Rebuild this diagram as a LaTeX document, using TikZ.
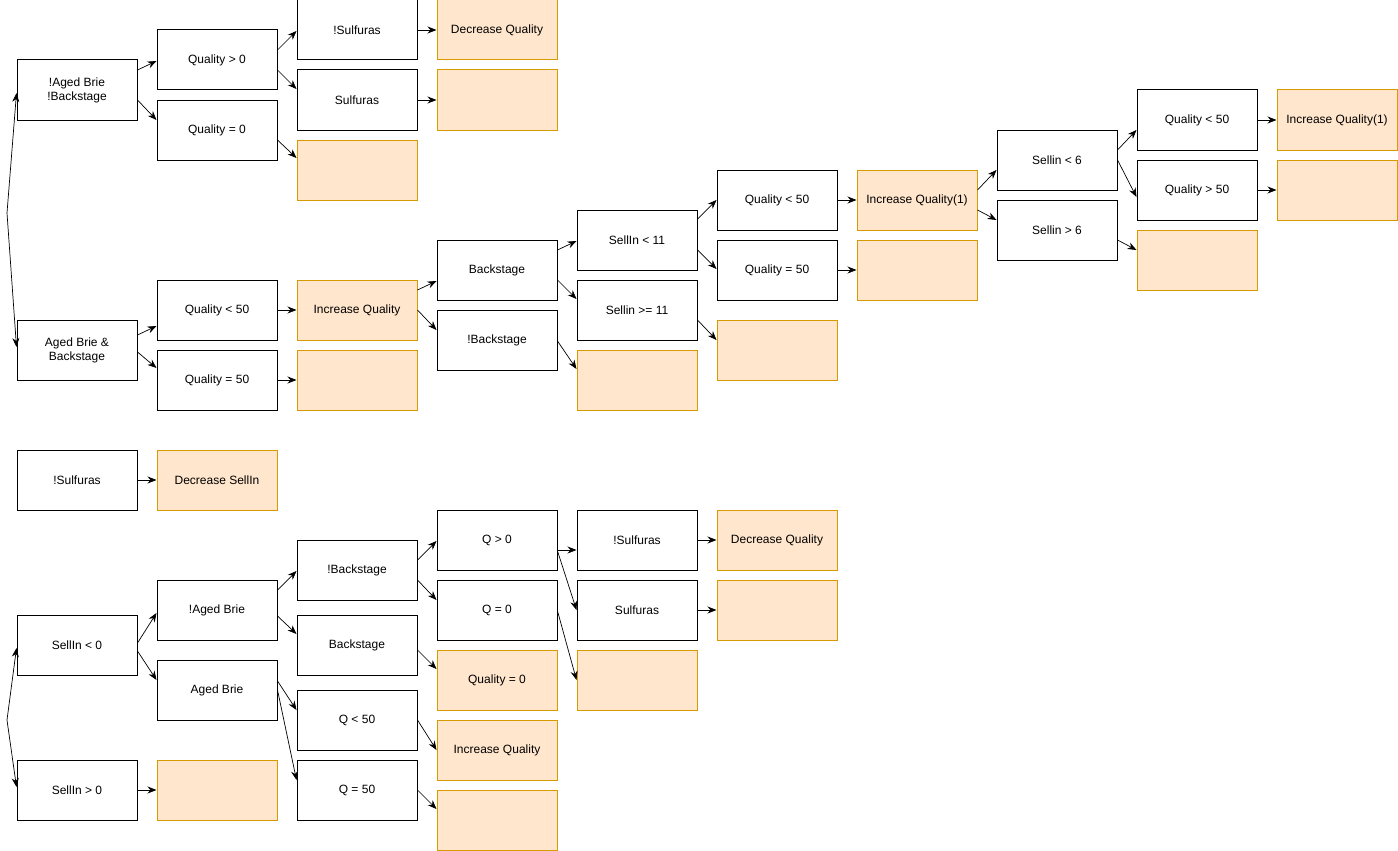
\documentclass[tikz,border=0pt]{standalone}
\usepackage{fontspec}
\setmainfont{Liberation Sans}
\usetikzlibrary{arrows.meta}
\definecolor{ofill}{HTML}{FFE6CC}
\definecolor{oline}{HTML}{D79B00}
\tikzset{
  box/.style={draw=black, line width=1pt, fill=white, minimum width=120pt, minimum height=60pt, inner sep=0pt, align=center, font=\fontsize{12}{14}\selectfont},
  obox/.style={box, draw=oline, fill=ofill},
  arr/.style={draw=black, line width=0.7pt, -{Stealth[length=9pt,width=7pt]}}
}
\newcommand\ed[4]{\draw[arr] ([yshift=#2pt]#1.east) -- ([yshift=#4pt]#3.west);}
\begin{document}
\begin{tikzpicture}[x=1pt,y=-1pt]
\useasboundingbox (0,0) rectangle (1398,851);
% column 0
\node[box] (A1) at (77,90) {!Aged Brie\\!Backstage};
\node[box] (A2) at (77,350) {Aged Brie \&\\Backstage};
\node[box] (A3) at (77,480) {!Sulfuras};
\node[box] (A4) at (77,645) {SellIn {<} 0};
\node[box] (A5) at (77,790) {SellIn {>} 0};
% column 1
\node[box] (B1) at (217,60) {Quality {>} 0};
\node[box] (B2) at (217,130) {Quality = 0};
\node[box] (B3) at (217,310) {Quality {<} 50};
\node[box] (B4) at (217,380) {Quality = 50};
\node[obox] (B5) at (217,480) {Decrease SellIn};
\node[box] (B6) at (217,610) {!Aged Brie};
\node[box] (B7) at (217,690) {Aged Brie};
\node[obox] (B8) at (217,790) {};
% column 2
\node[box] (C1) at (357,30) {!Sulfuras};
\node[box] (C2) at (357,100) {Sulfuras};
\node[obox] (C3) at (357,170) {};
\node[obox] (C4) at (357,310) {Increase Quality};
\node[obox] (C5) at (357,380) {};
\node[box] (C6) at (357,570) {!Backstage};
\node[box] (C7) at (357,645) {Backstage};
\node[box] (C8) at (357,720) {Q {<} 50};
\node[box] (C9) at (357,790) {Q = 50};
% column 3
\node[obox] (D1) at (497,30) {Decrease Quality};
\node[obox] (D2) at (497,100) {};
\node[box] (D3) at (497,270) {Backstage};
\node[box] (D4) at (497,340) {!Backstage};
\node[box] (D5) at (497,540) {Q {>} 0};
\node[box] (D6) at (497,610) {Q = 0};
\node[obox] (D7) at (497,680) {Quality = 0};
\node[obox] (D8) at (497,750) {Increase Quality};
\node[obox] (D9) at (497,820) {};
% column 4
\node[box] (E1) at (637,240) {SellIn {<} 11};
\node[box] (E2) at (637,310) {Sellin {>}= 11};
\node[obox] (E3) at (637,380) {};
\node[box] (E4) at (637,540) {!Sulfuras};
\node[box] (E5) at (637,610) {Sulfuras};
\node[obox] (E6) at (637,680) {};
% column 5
\node[box] (F1) at (777,200) {Quality {<} 50};
\node[box] (F2) at (777,270) {Quality = 50};
\node[obox] (F3) at (777,350) {};
\node[obox] (F4) at (777,540) {Decrease Quality};
\node[obox] (F5) at (777,610) {};
% column 6
\node[obox] (G1) at (917,200) {Increase Quality(1)};
\node[obox] (G2) at (917,270) {};
% column 7
\node[box] (H1) at (1057,160) {Sellin {<} 6};
\node[box] (H2) at (1057,230) {Sellin {>} 6};
% column 8
\node[box] (I1) at (1197,120) {Quality {<} 50};
\node[box] (I2) at (1197,190) {Quality {>} 50};
\node[obox] (I3) at (1197,260) {};
% column 9
\node[obox] (J1) at (1337,120) {Increase Quality(1)};
\node[obox] (J2) at (1337,190) {};
% forks
\coordinate (f1) at (7,213);
\coordinate (f2) at (7,720);
\draw[arr] (f1) -- ([yshift=-3pt]A1.west);
\draw[arr] (f1) -- ([yshift=3pt]A2.west);
\draw[arr] (f2) -- ([yshift=-3pt]A4.west);
\draw[arr] (f2) -- ([yshift=3pt]A5.west);
% edges top
\ed{A1}{20}{B1}{-1}
\ed{A1}{-10}{B2}{10}
\ed{B1}{10}{C1}{-1}
\ed{B1}{-10}{C2}{11}
\ed{C1}{0}{D1}{0}
\ed{C2}{0}{D2}{0}
\ed{B2}{-10}{C3}{12}
\ed{A2}{15}{B3}{-16}
\ed{A2}{-2}{B4}{12}
\ed{B3}{0}{C4}{0}
\ed{B4}{0}{C5}{0}
\ed{C4}{20}{D3}{-11}
\ed{C4}{0}{D4}{10}
\ed{D3}{20}{E1}{-1}
\ed{D3}{-10}{E2}{11}
\ed{D4}{-1}{E3}{11}
\ed{E1}{21}{F1}{0}
\ed{E1}{-10}{F2}{1}
\ed{E2}{-10}{F3}{10}
\ed{F1}{0}{G1}{0}
\ed{F2}{0}{G2}{0}
\ed{G1}{10}{H1}{-10}
\ed{G1}{-10}{H2}{10}
\ed{H1}{10}{I1}{-10}
\ed{H1}{0}{I2}{-7}
\ed{H2}{-10}{I3}{10}
\ed{I1}{0}{J1}{0}
\ed{I2}{0}{J2}{0}
% edges bottom
\ed{A3}{0}{B5}{0}
\ed{A4}{2}{B6}{-3}
\ed{A4}{-6}{B7}{10}
\ed{A5}{0}{B8}{0}
\ed{B6}{20}{C6}{-1}
\ed{B6}{-6}{C7}{11}
\ed{B7}{9}{C8}{10}
\ed{B7}{0}{C9}{10}
\ed{C6}{10}{D5}{-1}
\ed{C6}{-10}{D6}{10}
\ed{C7}{-5}{D7}{11}
\ed{C8}{0}{D8}{0}
\ed{C9}{0}{D9}{11}
\ed{D5}{-10}{E4}{-10}
\ed{D5}{-11}{E5}{0}
\ed{D6}{-1}{E6}{0}
\ed{E4}{0}{F4}{0}
\ed{E5}{0}{F5}{0}
\end{tikzpicture}
\end{document}
